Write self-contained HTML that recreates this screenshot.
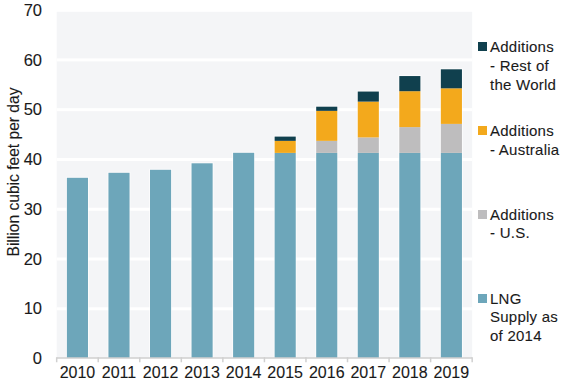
<!DOCTYPE html>
<html><head><meta charset="utf-8"><style>
html,body{margin:0;padding:0;background:#fff;}
body{width:580px;height:387px;position:relative;overflow:hidden;font-family:"Liberation Sans",sans-serif;color:#1a1a1a;-webkit-text-stroke:0.1px #1a1a1a;}
svg{position:absolute;left:0;top:0;}
.yl{position:absolute;right:538px;width:40px;text-align:right;font-size:16.5px;line-height:20px;}
.xl{position:absolute;top:362.8px;width:41.5px;text-align:center;font-size:16px;line-height:20px;}
.ttl{position:absolute;left:14px;top:172px;width:0;height:0;}
.ttl span{position:absolute;white-space:nowrap;transform:translate(-50%,-50%) rotate(-90deg);font-size:15.6px;line-height:16px;}
.lg{position:absolute;left:490px;font-size:15px;line-height:20px;letter-spacing:0.25px;white-space:nowrap;}
.sq{position:absolute;left:478px;width:8.5px;height:8.6px;}
</style></head><body>
<svg width="580" height="387" viewBox="0 0 580 387">
<rect x="56.67" y="11.8" width="415.5" height="346.2" fill="#f4f5f7"/>
<rect x="56.67" y="307.31" width="415.5" height="3" fill="#fff"/>
<rect x="56.67" y="257.53" width="415.5" height="3" fill="#fff"/>
<rect x="56.67" y="207.75" width="415.5" height="3" fill="#fff"/>
<rect x="56.67" y="157.96" width="415.5" height="3" fill="#fff"/>
<rect x="56.67" y="108.18" width="415.5" height="3" fill="#fff"/>
<rect x="56.67" y="58.39" width="415.5" height="3" fill="#fff"/>
<rect x="65.89" y="176.80" width="23.10" height="181.20" fill="#fff" opacity="0.6"/>
<rect x="66.89" y="177.80" width="21.10" height="180.20" fill="#6da6ba"/>
<rect x="107.45" y="171.80" width="23.10" height="186.20" fill="#fff" opacity="0.6"/>
<rect x="108.45" y="172.80" width="21.10" height="185.20" fill="#6da6ba"/>
<rect x="149.00" y="168.80" width="23.10" height="189.20" fill="#fff" opacity="0.6"/>
<rect x="150.00" y="169.80" width="21.10" height="188.20" fill="#6da6ba"/>
<rect x="190.54" y="162.30" width="23.10" height="195.70" fill="#fff" opacity="0.6"/>
<rect x="191.54" y="163.30" width="21.10" height="194.70" fill="#6da6ba"/>
<rect x="232.09" y="151.80" width="23.10" height="206.20" fill="#fff" opacity="0.6"/>
<rect x="233.09" y="152.80" width="21.10" height="205.20" fill="#6da6ba"/>
<rect x="273.64" y="135.60" width="23.10" height="222.40" fill="#fff" opacity="0.6"/>
<rect x="274.64" y="152.90" width="21.10" height="205.10" fill="#6da6ba"/>
<rect x="274.64" y="140.85" width="21.10" height="12.05" fill="#f3a91c"/>
<rect x="274.64" y="136.60" width="21.10" height="4.25" fill="#10404e"/>
<rect x="315.19" y="105.70" width="23.10" height="252.30" fill="#fff" opacity="0.6"/>
<rect x="316.19" y="152.90" width="21.10" height="205.10" fill="#6da6ba"/>
<rect x="316.19" y="140.85" width="21.10" height="12.05" fill="#bebdbe"/>
<rect x="316.19" y="110.85" width="21.10" height="30.00" fill="#f3a91c"/>
<rect x="316.19" y="106.70" width="21.10" height="4.15" fill="#10404e"/>
<rect x="356.75" y="90.55" width="23.10" height="267.45" fill="#fff" opacity="0.6"/>
<rect x="357.75" y="152.90" width="21.10" height="205.10" fill="#6da6ba"/>
<rect x="357.75" y="137.40" width="21.10" height="15.50" fill="#bebdbe"/>
<rect x="357.75" y="101.60" width="21.10" height="35.80" fill="#f3a91c"/>
<rect x="357.75" y="91.55" width="21.10" height="10.05" fill="#10404e"/>
<rect x="398.29" y="75.05" width="23.10" height="282.95" fill="#fff" opacity="0.6"/>
<rect x="399.29" y="152.90" width="21.10" height="205.10" fill="#6da6ba"/>
<rect x="399.29" y="127.10" width="21.10" height="25.80" fill="#bebdbe"/>
<rect x="399.29" y="91.20" width="21.10" height="35.90" fill="#f3a91c"/>
<rect x="399.29" y="76.05" width="21.10" height="15.15" fill="#10404e"/>
<rect x="439.84" y="68.30" width="23.10" height="289.70" fill="#fff" opacity="0.6"/>
<rect x="440.84" y="152.90" width="21.10" height="205.10" fill="#6da6ba"/>
<rect x="440.84" y="123.90" width="21.10" height="29.00" fill="#bebdbe"/>
<rect x="440.84" y="88.30" width="21.10" height="35.60" fill="#f3a91c"/>
<rect x="440.84" y="69.30" width="21.10" height="19.00" fill="#10404e"/>
<rect x="56.67" y="357.25" width="415.5" height="1.5" fill="#d0d0d0"/>
<rect x="55.92" y="357.25" width="1.5" height="5" fill="#d0d0d0"/>
<rect x="97.47" y="357.25" width="1.5" height="5" fill="#d0d0d0"/>
<rect x="139.02" y="357.25" width="1.5" height="5" fill="#d0d0d0"/>
<rect x="180.57" y="357.25" width="1.5" height="5" fill="#d0d0d0"/>
<rect x="222.12" y="357.25" width="1.5" height="5" fill="#d0d0d0"/>
<rect x="263.67" y="357.25" width="1.5" height="5" fill="#d0d0d0"/>
<rect x="305.22" y="357.25" width="1.5" height="5" fill="#d0d0d0"/>
<rect x="346.77" y="357.25" width="1.5" height="5" fill="#d0d0d0"/>
<rect x="388.32" y="357.25" width="1.5" height="5" fill="#d0d0d0"/>
<rect x="429.87" y="357.25" width="1.5" height="5" fill="#d0d0d0"/>
<rect x="471.42" y="357.25" width="1.5" height="5" fill="#d0d0d0"/>
</svg>
<div class="yl" style="top:348.0px">0</div><div class="yl" style="top:298.3px">10</div><div class="yl" style="top:248.6px">20</div><div class="yl" style="top:198.9px">30</div><div class="yl" style="top:149.1px">40</div><div class="yl" style="top:99.4px">50</div><div class="yl" style="top:49.7px">60</div><div class="yl" style="top:0.0px">70</div>
<div class="xl" style="left:56.7px">2010</div><div class="xl" style="left:98.2px">2011</div><div class="xl" style="left:139.8px">2012</div><div class="xl" style="left:181.3px">2013</div><div class="xl" style="left:222.9px">2014</div><div class="xl" style="left:264.4px">2015</div><div class="xl" style="left:306.0px">2016</div><div class="xl" style="left:347.5px">2017</div><div class="xl" style="left:389.1px">2018</div><div class="xl" style="left:430.6px">2019</div>
<div class="ttl"><span>Billion cubic feet per day</span></div>
<div class="sq" style="top:42.4px;background:#10404e"></div><div class="lg" style="top:36.70px">Additions</div><div class="lg" style="top:55.70px">- Rest of</div><div class="lg" style="top:74.60px">the World</div><div class="sq" style="top:126.2px;background:#f3a91c"></div><div class="lg" style="top:120.60px">Additions</div><div class="lg" style="top:139.60px">- Australia</div><div class="sq" style="top:210.0px;background:#bebdbe"></div><div class="lg" style="top:204.80px">Additions</div><div class="lg" style="top:223.40px">- U.S.</div><div class="sq" style="top:294.2px;background:#6da6ba"></div><div class="lg" style="top:288.80px">LNG</div><div class="lg" style="top:307.40px">Supply as</div><div class="lg" style="top:326.20px">of 2014</div>
</body></html>
